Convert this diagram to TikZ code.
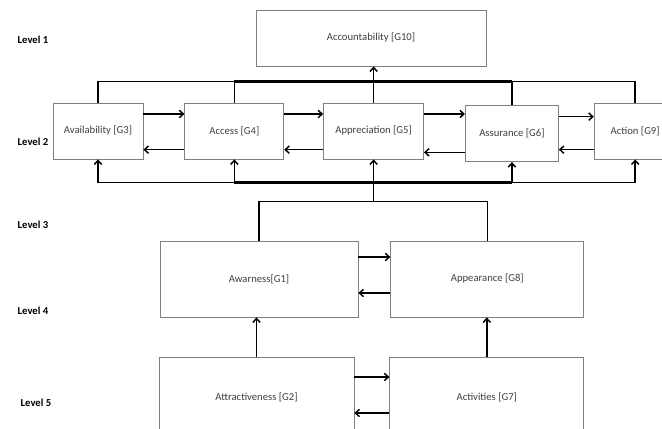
\documentclass[tikz,border=0pt]{standalone}
\usepackage{fontspec}
\setmainfont{Carlito}
\usetikzlibrary{positioning,arrows.meta}
\tikzset{>={Straight Barb[length=3pt,width=5.5pt]}}
\definecolor{boxline}{HTML}{808080}
\definecolor{boxtext}{HTML}{404040}

\begin{document}
\begin{tikzpicture}[x=0.75pt,y=-0.75pt,
  goal/.style={draw=boxline,line width=0.6pt,fill=white,text=boxtext,
    font=\fontsize{8}{9.6}\selectfont,inner sep=0pt,minimum height=42pt},
  level/.style={anchor=west,font=\fontsize{8}{9.6}\selectfont\bfseries},
  link/.style={line width=1.1pt},
  bus/.style={line width=1.1pt},
  trunk/.style={line width=2pt}]
\useasboundingbox (0,0) rectangle (662,429);

% levels
\node [level] (L1) at (13,40) {Level 1};
\node [level] (L2) at (13,142) {Level 2};
\node [level] (L3) at (13,225) {Level 3};
\node [level] (L4) at (13,311) {Level 4};
\node [level] (L5) at (16,403) {Level 5};

% goals
\node [goal,minimum width=172.5pt] (G10) at (371,38) {Accountability [G10]};
\node [goal,minimum width=67.5pt] (G3) at (98,131) {Availability [G3]};
\node [goal,minimum width=74.25pt,right=30.75pt of G3] (G4) {Access [G4]};
\node [goal,minimum width=75pt,right=29.25pt of G4] (G5) {Appreciation [G5]};
\node [goal,minimum width=69.75pt,right=30.75pt of G5,yshift=-2pt] (G6) {Assurance [G6]};
\node [goal,minimum width=61.5pt,right=26.25pt of G6,yshift=2pt] (G9) {Action [G9]};
\node [goal,minimum width=148.5pt,minimum height=57pt] (G1) at (259,279) {Awarness[G1]};
\node [goal,minimum width=144.75pt,minimum height=57pt,right=24pt of G1] (G8) {Appearance [G8]};
\node [goal,minimum width=146.25pt,minimum height=60pt] (G2) at (256.5,397) {Attractiveness [G2]};
\node [goal,minimum width=145.5pt,minimum height=60pt,right=26.25pt of G2] (G7) {Activities [G7]};

\coordinate [above=16pt of G5.north] (top);
\coordinate [below=17.5pt of G5.south] (low);
\coordinate [below=14pt of low] (fork);

% level 2 up to level 1
\draw [bus] (G3.north) |- (top) -| (G9.north);
\draw [bus] (G4.north) -- (G4.north |- top);
\draw [bus] (G6.north) -- (G6.north |- top);
\draw [trunk] (G4.north |- top) -- (G6.north |- top);
\draw [bus,->] (G5.north) -- (G5.north |- G10.south);

% level 3 up to level 2
\draw [bus] (G3.south |- low) -- (G9.south |- low);
\draw [trunk] (G4.south |- low) -- (G6.south |- low);
\foreach \g in {G3,G4,G5,G6,G9}
  \draw [bus,->] (\g.south |- low) -- (\g.south);
\draw [bus] (low) -- (fork);
\draw [bus] (G1.north) |- (fork) -| (G8.north);

% within level 2
\foreach \a/\b in {G3/G4,G4/G5,G5/G6,G6/G9} {
  \draw [link,->] ([yshift=12.75pt]\a.east) -- ([yshift=12.75pt]\a.east -| \b.west);
  \draw [link,->] ([yshift=-14pt]\b.west) -- ([yshift=-14pt]\b.west -| \a.east);
}

% levels 4 and 5
\draw [link,->] ([yshift=16.5pt]G1.east) -- ([yshift=16.5pt]G1.east -| G8.west);
\draw [link,->] ([yshift=-10.5pt]G8.west) -- ([yshift=-10.5pt]G8.west -| G1.east);
\draw [link,->] ([yshift=15pt]G2.east) -- ([yshift=15pt]G2.east -| G7.west);
\draw [link,->] ([yshift=-12pt]G7.west) -- ([yshift=-12pt]G7.west -| G2.east);
\draw [link,->] (G2.north) -- (G2.north |- G1.south);
\draw [link,->] (G7.north) -- (G7.north |- G8.south);
\end{tikzpicture}
\end{document}
